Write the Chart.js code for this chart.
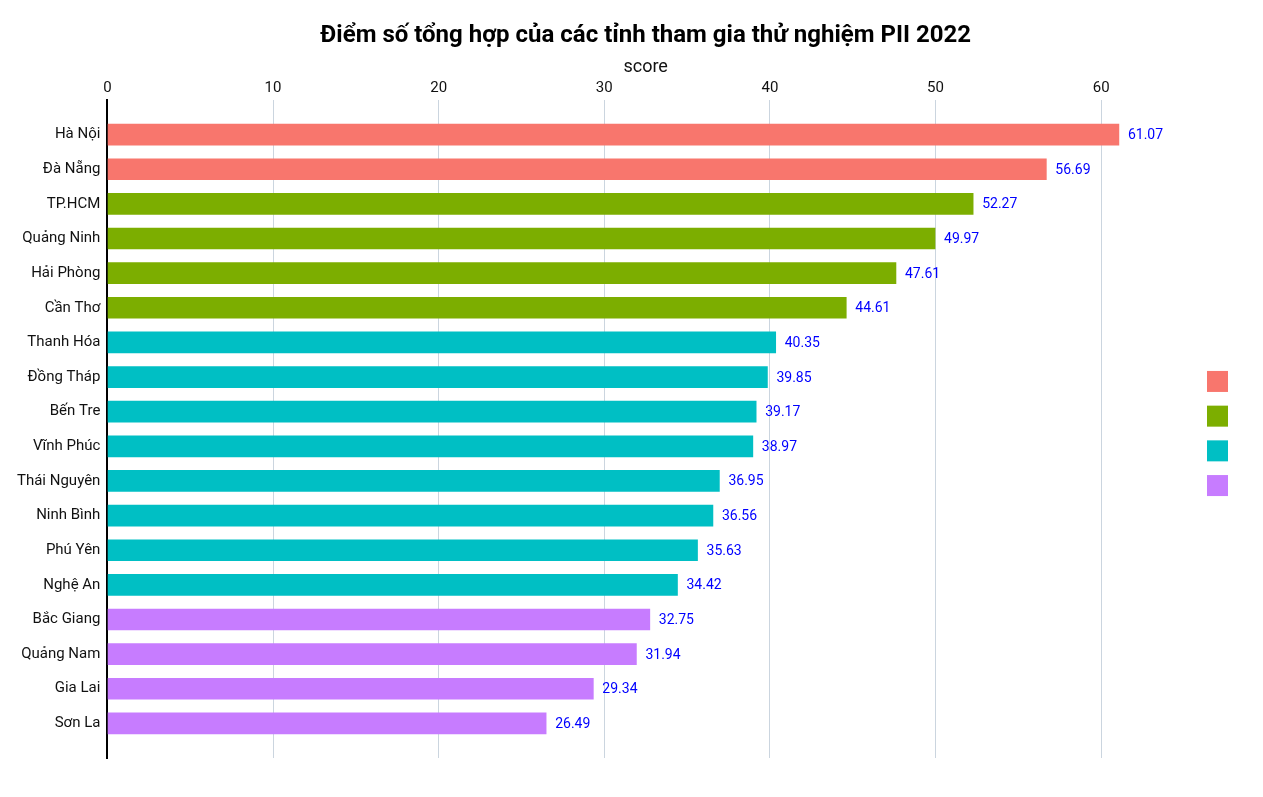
<!DOCTYPE html>
<html>
<head>
<meta charset="utf-8">
<script src="https://cdn.jsdelivr.net/npm/chart.js@4"></script>
<style>
  html, body { margin: 0; padding: 0; background: #fff; }
  #wrap { width: 1263px; height: 797px; }
</style>
</head>
<body>
<div id="wrap"><canvas id="piiChart"></canvas></div>
<script>
const provinces = ["Hà Nội", "Đà Nẵng", "TP.HCM", "Quảng Ninh", "Hải Phòng", "Cần Thơ",
  "Thanh Hóa", "Đồng Tháp", "Bến Tre", "Vĩnh Phúc", "Thái Nguyên", "Ninh Bình",
  "Phú Yên", "Nghệ An", "Bắc Giang", "Quảng Nam", "Gia Lai", "Sơn La"];
const scores = [61.07, 56.69, 52.27, 49.97, 47.61, 44.61, 40.35, 39.85, 39.17,
  38.97, 36.95, 36.56, 35.63, 34.42, 32.75, 31.94, 29.34, 26.49];
const groups = [0, 0, 1, 1, 1, 1, 2, 2, 2, 2, 2, 2, 2, 2, 3, 3, 3, 3];
const groupColors = ["#F8766D", "#7CAE00", "#00BFC4", "#C77CFF"];
const xTicks = [0, 10, 20, 30, 40, 50, 60];

Chart.defaults.font.family = "Roboto";
Chart.defaults.color = "#111";

// one dataset per colour group, bars placed on a numeric row axis
const datasets = groupColors.map((col, g) => ({
  label: "",
  backgroundColor: col,
  borderWidth: 0,
  barThickness: 21,
  grouped: false,
  data: provinces
    .map((p, i) => ({ x: scores[i], y: i, g: groups[i] }))
    .filter(d => d.g === g)
}));

const titleText = "Điểm số tổng hợp của các tỉnh tham gia thử nghiệm PII 2022";

const titlePlugin = {
  id: "centeredTitle",
  afterDraw(chart) {
    const { ctx, chartArea } = chart;
    ctx.save();
    ctx.font = "bold 24px Roboto";
    ctx.fillStyle = "#000";
    ctx.textAlign = "center";
    ctx.textBaseline = "middle";
    ctx.fillText(titleText, (chartArea.left + chartArea.right) / 2, 36);
    ctx.restore();
  }
};

// unlabeled colour keys at the right, like the original
const keyPlugin = {
  id: "colourKeys",
  afterDraw(chart) {
    const { ctx, chartArea } = chart;
    const x = chartArea.right + 23;
    const pitch = 34.7;
    const y0 = 433.5 - (pitch * (groupColors.length - 1)) / 2;
    ctx.save();
    groupColors.forEach((c, i) => {
      ctx.fillStyle = c;
      ctx.fillRect(x, y0 + i * pitch - 10.5, 21, 21);
    });
    ctx.restore();
  }
};

const valueLabels = {
  id: "valueLabels",
  afterDatasetsDraw(chart) {
    const ctx = chart.ctx;
    ctx.save();
    ctx.font = "14px Roboto";
    ctx.fillStyle = "#0000ff";
    ctx.textBaseline = "middle";
    chart.data.datasets.forEach((ds, di) => {
      chart.getDatasetMeta(di).data.forEach((bar, j) => {
        ctx.fillText(ds.data[j].x.toFixed(2), bar.x + 9, bar.y + 1);
      });
    });
    ctx.restore();
  }
};

new Chart("piiChart", {
  type: "bar",
  data: { datasets: datasets },
  plugins: [titlePlugin, keyPlugin, valueLabels],
  options: {
    indexAxis: "y",
    responsive: true,
    maintainAspectRatio: false,
    animation: false,
    layout: { padding: { top: 54, left: 10, right: 79, bottom: 39 } },
    plugins: {
      legend: { display: false },
      tooltip: { enabled: false },
      title: { display: false }
    },
    scales: {
      x: {
        type: "linear",
        position: "top",
        min: 0,
        max: 65,
        afterBuildTicks: s => { s.ticks = xTicks.map(v => ({ value: v })); },
        ticks: { font: { size: 15 }, padding: 3, color: "#111" },
        grid: { color: "#cbd5df", lineWidth: 1, drawTicks: false },
        border: { display: false },
        title: {
          display: true, text: "score", color: "#111",
          font: { size: 18, lineHeight: 1 },
          padding: { top: 4, bottom: 0 }
        }
      },
      y: {
        type: "linear",
        reverse: true,
        offset: false,
        min: -1,
        max: provinces.length,
        afterBuildTicks: s => { s.ticks = provinces.map((p, i) => ({ value: i })); },
        ticks: {
          font: { size: 15 },
          color: "#111",
          padding: 7,
          callback: v => provinces[v]
        },
        grid: { display: false, drawTicks: false, offset: false },
        border: { display: true, color: "#000", width: 2 }
      }
    }
  }
});
</script>
</body>
</html>
